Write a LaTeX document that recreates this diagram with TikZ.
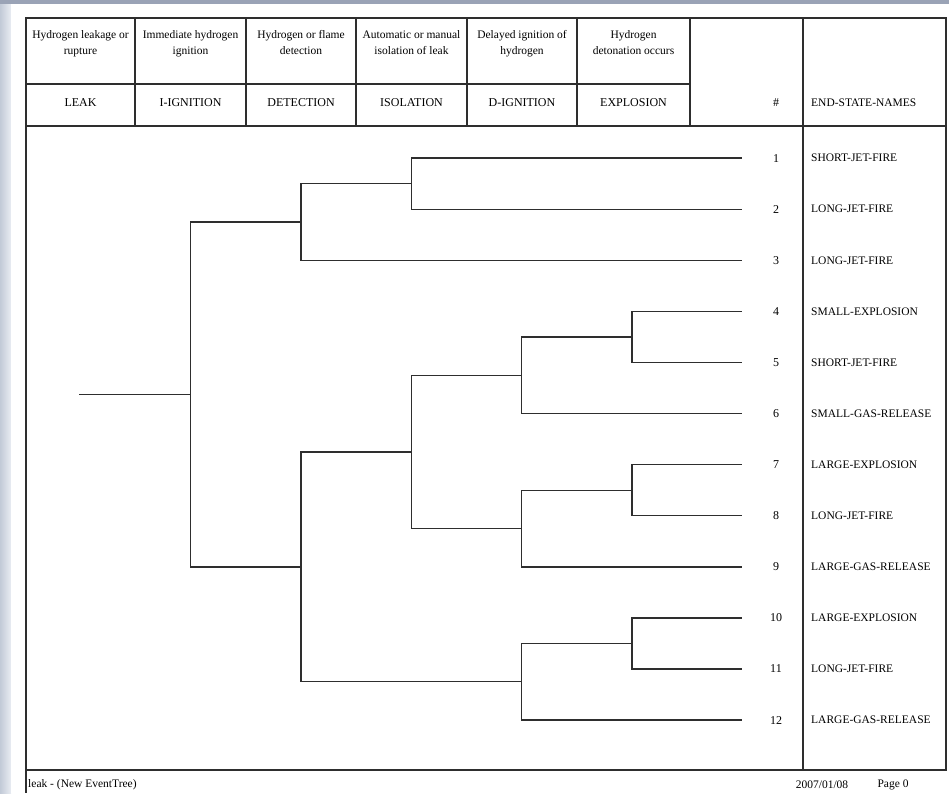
\documentclass[tikz,border=0pt]{standalone}
\usepackage{fontspec}
\setmainfont{Liberation Serif}
\usetikzlibrary{trees}

\definecolor{framegray}{HTML}{2E2E2E}
\definecolor{deskblue}{HTML}{9AA3B6}
\definecolor{desklight}{HTML}{D3DAE5}

\begin{document}
\begin{tikzpicture}[x=1pt,y=1pt,
    grow'=right,
    level/.style={level distance=110.4pt},
    gap/.style={sibling distance=#1*51.09pt},
    span/.style={level distance=#1*110.4pt},
    edge from parent/.style={draw=framegray,line width=1.4pt},
    edge from parent path={(\tikzparentnode) |- (\tikzchildnode)},
    rule/.style={draw=framegray,line width=1.6pt},
    head/.style={font=\fontsize{11.5}{16}\selectfont,align=center,anchor=north,inner sep=0pt},
    tag/.style={font=\fontsize{12}{13}\selectfont,inner sep=0pt},
    state/.style={font=\fontsize{11.5}{13}\selectfont,anchor=west,inner sep=0pt},
    foot/.style={font=\fontsize{11.5}{13}\selectfont,inner sep=0pt}]
    \useasboundingbox (0,0) rectangle (949,-793);
    \fill[deskblue] (0,0) rectangle (949,-793);
    \shade[left color=desklight!70!deskblue,right color=desklight!50!white] (0,-4) rectangle (11,-793);
    \fill[white] (11,-4) rectangle (949,-793);

    \draw[rule] (26,-18) rectangle (946,-770);
    \draw[rule] (26,-84) -- (690,-84) (26,-126) -- (946,-126);
    \foreach \x in {135,246,356,467,577,690}
        \draw[rule] (\x,-18) -- (\x,-126);
    \draw[rule] (803,-18) -- (803,-770);
    \draw[rule] (26,-770) -- (26,-793);

    \foreach \x/\desc/\tag [count=\c] in {
        80.5/{Hydrogen leakage or\\rupture}/LEAK,
        190.5/{Immediate hydrogen\\ignition}/I-IGNITION,
        301/{Hydrogen or flame\\detection}/DETECTION,
        411.5/{Automatic or manual\\isolation of leak}/ISOLATION,
        522/{Delayed ignition of\\hydrogen}/D-IGNITION,
        633.5/{Hydrogen\\detonation occurs}/EXPLOSION}
    {
        \node[head] (d\c) at (\x,-30.5) {\desc};
        \node[tag] (t\c) at (\x,-103) {\tag};
    }
    \node[tag] (hash) at (776,-103) {\#};
    \node[state] (names) at (811,-103) {END-STATE-NAMES};

    \path (80,-394.4) coordinate (leak)
        child { coordinate (iign)
            child[gap=6.75] { coordinate (det1)
                child[gap=1.5] { coordinate (iso1)
                    child[gap=1,span=3] { coordinate (e1)}
                    child[gap=1,span=3] { coordinate (e2)}
                }
                child[gap=1.5,span=4] { coordinate (e3)}
            }
            child[gap=6.75] { coordinate (det2)
                child[gap=4.5] { coordinate (iso2)
                    child[gap=3] { coordinate (dig1)
                        child[gap=1.5] { coordinate (exp1)
                            child[gap=1] { coordinate (e4)}
                            child[gap=1] { coordinate (e5)}
                        }
                        child[gap=1.5,span=2] { coordinate (e6)}
                    }
                    child[gap=3] { coordinate (dig2)
                        child[gap=1.5] { coordinate (exp2)
                            child[gap=1] { coordinate (e7)}
                            child[gap=1] { coordinate (e8)}
                        }
                        child[gap=1.5,span=2] { coordinate (e9)}
                    }
                }
                child[gap=4.5,span=2] { coordinate (dig3)
                    child[gap=1.5] { coordinate (exp3)
                        child[gap=1] { coordinate (e10)}
                        child[gap=1] { coordinate (e11)}
                    }
                    child[gap=1.5,span=2] { coordinate (e12)}
                }
            }
        };

    \foreach \name [count=\i] in {SHORT-JET-FIRE,LONG-JET-FIRE,LONG-JET-FIRE,
        SMALL-EXPLOSION,SHORT-JET-FIRE,SMALL-GAS-RELEASE,
        LARGE-EXPLOSION,LONG-JET-FIRE,LARGE-GAS-RELEASE,
        LARGE-EXPLOSION,LONG-JET-FIRE,LARGE-GAS-RELEASE}
    {
        \node[tag] (n\i) at (e\i -| hash) {\i};
        \node[state] (s\i) at (e\i -| names.west) {\name};
    }

    \node[foot,anchor=west] (file) at (28,-785) {leak - (New EventTree)};
    \node[foot] (date) at (822,-785) {2007/01/08};
    \node[foot] (page) at (893,-785) {Page 0};
\end{tikzpicture}
\end{document}
